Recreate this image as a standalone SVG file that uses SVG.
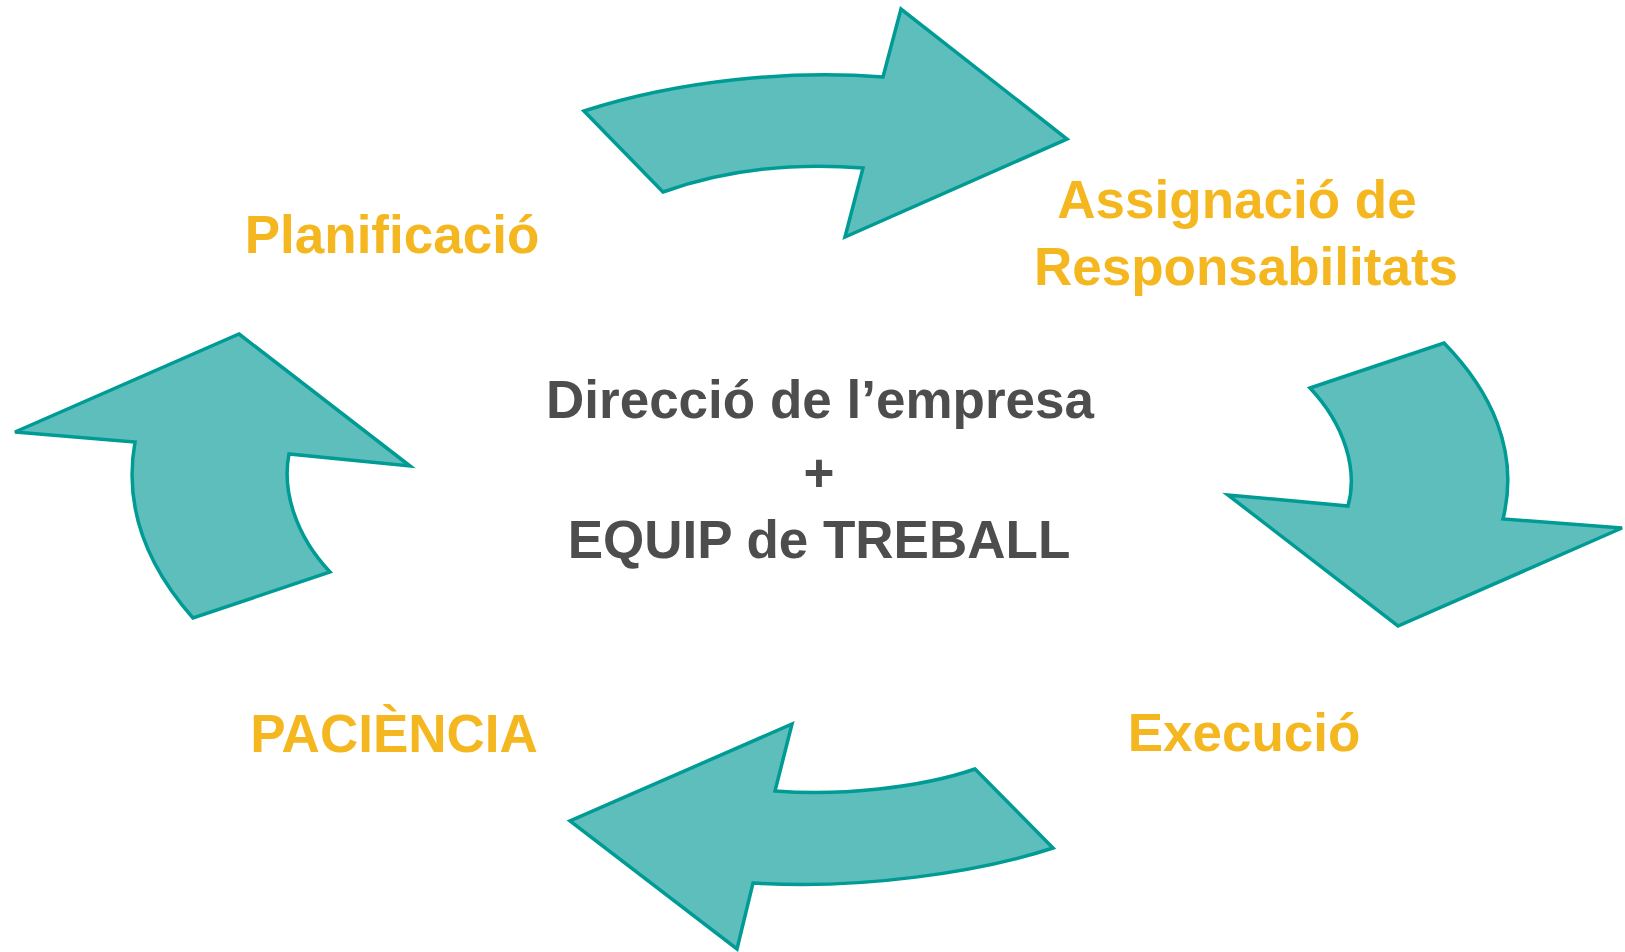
<svg xmlns="http://www.w3.org/2000/svg" width="1625" height="952" viewBox="0 0 1625 952">
<style>
.arrow{fill:#5EBEBC;stroke:#009B95;stroke-width:3.5;stroke-linejoin:miter}
.lbl{font-family:"Liberation Sans",Arial,sans-serif;font-weight:bold;font-size:53px;fill:#F5B71F;text-anchor:middle}
.ctr{font-family:"Liberation Sans",Arial,sans-serif;font-weight:bold;font-size:53px;fill:#4D4D4D;text-anchor:middle}
</style>
<rect width="1625" height="952" fill="#FFFFFF"/>
<g id="connectors">
<path id="arrow-top" class="arrow" d="M584,111 C680,80 790,70 883,77 L901,9 L1067,139 L845,237 L863,168 C800,163 730,168 663,192 Z"/>
<path id="arrow-right" class="arrow" d="M1310,388 L1444,343 C1490,390 1520,450 1503,519 L1622,528 L1398,626 L1228,495 L1348,506 C1358,470 1345,425 1310,388 Z"/>
<path id="arrow-bottom" class="arrow" d="M975,769 L1053,848 C980,872 860,890 753,883 L737,949 L570,821 L792,724 L775,791 C840,796 920,788 975,769 Z"/>
<path id="arrow-left" class="arrow" d="M239,334 L410,466 L289,454 C282,490 295,535 330,572 L193,618 C155,575 122,515 135,442 L15,432 Z"/>
</g>
<g id="node-planificacio"><text class="lbl" x="392" y="253">Planificació</text></g>
<g id="node-assignacio"><text class="lbl" x="1237" y="218">Assignació de</text><text class="lbl" x="1246" y="285">Responsabilitats</text></g>
<g id="node-execucio"><text class="lbl" x="1244" y="751">Execució</text></g>
<g id="node-paciencia"><text class="lbl" x="394" y="752">PACIÈNCIA</text></g>
<g id="node-center"><text class="ctr" x="820" y="418">Direcció de l’empresa</text><text class="ctr" x="819" y="491">+</text><text class="ctr" x="819" y="558">EQUIP de TREBALL</text></g>
</svg>
